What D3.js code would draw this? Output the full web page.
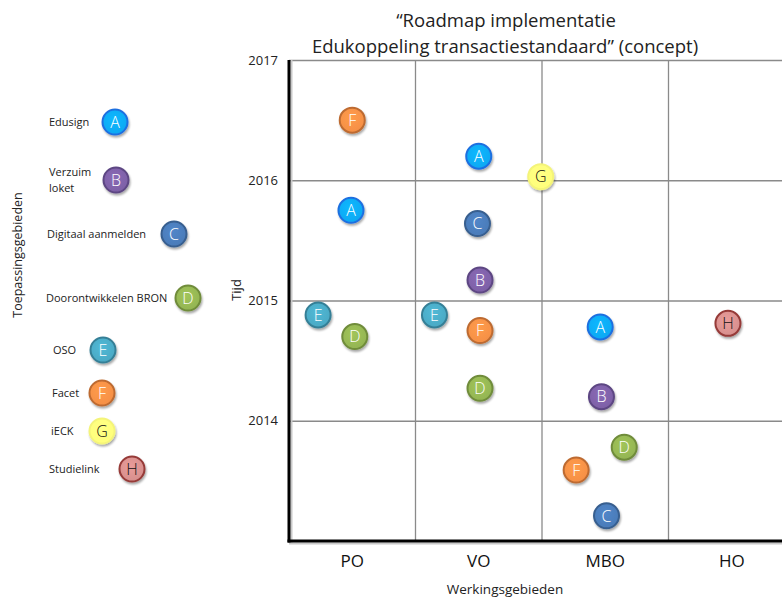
<!DOCTYPE html>
<html>
<head>
<meta charset="utf-8">
<script src="https://cdn.jsdelivr.net/npm/d3@7"></script>
<style>
  body { margin: 0; background: #fff; }
  text { font-family: "Open Sans", sans-serif; }
</style>
</head>
<body>
<svg id="chart" width="782" height="597"></svg>
<script>
// werkingsgebieden (x) and tijd (y)
var areas = ["PO", "VO", "MBO", "HO"];
var yearTicks = [2014, 2015, 2016, 2017];

// legend: toepassingsgebieden
var appLetters = ["A", "B", "C", "D", "E", "F", "G", "H"];
var appNames = [["Edusign"], ["Verzuim", "loket"], ["Digitaal aanmelden"], ["Doorontwikkelen  BRON"],
                ["OSO"], ["Facet"], ["iECK"], ["Studielink"]];

// points: letter, werkingsgebied, place inside the column (0..1), year
var pointLetter = ["F", "A", "E", "D", "A", "G", "C", "B", "E", "F", "D", "A", "B", "D", "F", "C", "H"];
var pointArea   = ["PO", "PO", "PO", "PO", "VO", "VO", "VO", "VO", "VO", "VO", "VO", "MBO", "MBO", "MBO", "MBO", "MBO", "HO"];
var pointPlace  = [0.50, 0.49, 0.23, 0.52, 0.50, 0.99, 0.49, 0.51, 0.15, 0.51, 0.51, 0.46, 0.47, 0.65, 0.27, 0.51, 0.47];
var pointYear   = [2016.50, 2015.75, 2014.88, 2014.70, 2016.20, 2016.03, 2015.64, 2015.17, 2014.88, 2014.75, 2014.27,
                   2014.78, 2014.20, 2013.78, 2013.59, 2013.21, 2014.81];

// styling per letter
var fillColor   = { A: "#0fa8f2", B: "#7d60a6", C: "#4a7bb8", D: "#93b452", E: "#4aa9c4", F: "#f58f45", G: "#ffff7a", H: "#d68f8d" };
var strokeColor = { A: "#1f6fe0", B: "#5d4683", C: "#375e8f", D: "#6f8c3a", E: "#357f96", F: "#bd6b30", G: "#f4f47a", H: "#963a38" };
var letterColor = { G: "#111", H: "#111" };

// legend layout (pixels)
var legendRowY = [122, 180, 234, 298, 350, 393, 431, 469];
var legendTextX = [49, 49, 47, 46, 53, 52, 51, 49];
var legendBadgeX = [115, 116, 174, 188, 103, 102, 102, 132];

var svg = d3.select("#chart");
var plotLeft = 289, plotRight = 795, plotTop = 60, plotBottom = 541;
var r = 12.5;

var x = d3.scaleBand().domain(areas).range([plotLeft, plotRight]);
var y = d3.scaleLinear().domain([2013, 2017]).range([plotBottom, plotTop]);

var defs = svg.append("defs");
var shadow = defs.append("filter").attr("id", "shadow").attr("x", "-30%").attr("y", "-30%").attr("width", "160%").attr("height", "160%");
shadow.append("feGaussianBlur").attr("in", "SourceAlpha").attr("stdDeviation", 1.2);
shadow.append("feOffset").attr("dx", 1).attr("dy", 1.5).attr("result", "off");
shadow.append("feComponentTransfer").append("feFuncA").attr("type", "linear").attr("slope", 0.35);
var merge = shadow.append("feMerge");
merge.append("feMergeNode");
merge.append("feMergeNode").attr("in", "SourceGraphic");

appLetters.forEach(function (l) {
    var g = defs.append("radialGradient").attr("id", "grad" + l).attr("cx", "45%").attr("cy", "40%").attr("r", "60%");
    g.append("stop").attr("offset", "0%").attr("stop-color", d3.color(fillColor[l]).brighter(0.25));
    g.append("stop").attr("offset", "100%").attr("stop-color", fillColor[l]);
});

// title
var title = svg.append("text").attr("text-anchor", "middle")
    .style("font-size", "18.5px").style("fill", "#222");
title.append("tspan").attr("x", 506).attr("y", 27).text("\u201CRoadmap implementatie");
title.append("tspan").attr("x", 505).attr("y", 53).text("Edukoppeling transactiestandaard\u201D (concept)");

// grid
svg.append("g")
    .attr("transform", "translate(" + plotLeft + ",0)")
    .call(d3.axisLeft(y).tickValues(yearTicks).tickSize(-(plotRight - plotLeft)).tickFormat(""))
    .call(function (g) { g.select(".domain").remove(); })
    .selectAll("line").attr("stroke", "#8a8a8a").attr("stroke-width", 1.3);

svg.append("g").selectAll("line")
    .data(areas.slice(1).concat(["end"]))
    .enter().append("line")
    .attr("x1", function (d) { return d === "end" ? plotRight : x(d); })
    .attr("x2", function (d) { return d === "end" ? plotRight : x(d); })
    .attr("y1", plotTop).attr("y2", plotBottom)
    .attr("stroke", "#8a8a8a").attr("stroke-width", 1.3);

// year labels
svg.append("g")
    .attr("transform", "translate(" + plotLeft + ",0)")
    .call(d3.axisLeft(y).tickValues(yearTicks).tickSize(0).tickPadding(11).tickFormat(d3.format("d")))
    .call(function (g) { g.select(".domain").remove(); })
    .selectAll("text").style("font-size", "13px").style("font-family", "Open Sans, sans-serif").style("fill", "#222");

// area labels
svg.append("g")
    .attr("transform", "translate(0," + plotBottom + ")")
    .call(d3.axisBottom(x).tickSize(0).tickPadding(14))
    .call(function (g) { g.select(".domain").remove(); })
    .selectAll("text").style("font-size", "17px").style("font-family", "Open Sans, sans-serif").style("fill", "#111");

// thick axes with a soft shadow
svg.append("line").attr("x1", plotLeft + 2.5).attr("x2", plotLeft + 2.5).attr("y1", plotTop).attr("y2", plotBottom + 2)
    .attr("stroke", "#c8c8c8").attr("stroke-width", 2);
svg.append("line").attr("x1", plotLeft).attr("x2", 782).attr("y1", plotBottom + 2.5).attr("y2", plotBottom + 2.5)
    .attr("stroke", "#c8c8c8").attr("stroke-width", 2);
svg.append("line").attr("x1", plotLeft).attr("x2", plotLeft).attr("y1", plotTop).attr("y2", plotBottom + 1.5)
    .attr("stroke", "#000").attr("stroke-width", 3);
svg.append("line").attr("x1", plotLeft - 1.5).attr("x2", 782).attr("y1", plotBottom).attr("y2", plotBottom)
    .attr("stroke", "#000").attr("stroke-width", 3);

// axis titles
svg.append("text").attr("transform", "translate(241,290) rotate(-90)").attr("text-anchor", "middle")
    .style("font-size", "13px").style("fill", "#222").text("Tijd");
svg.append("text").attr("x", 505).attr("y", 594).attr("text-anchor", "middle")
    .style("font-size", "13.5px").style("fill", "#222").text("Werkingsgebieden");
svg.append("text").attr("transform", "translate(22,255) rotate(-90)").attr("text-anchor", "middle")
    .style("font-size", "12.5px").style("fill", "#222").text("Toepassingsgebieden");

function drawBadge(sel) {
    sel.append("circle").attr("r", r)
        .attr("fill", function (d) { return "url(#grad" + d.letter + ")"; })
        .attr("stroke", function (d) { return strokeColor[d.letter]; })
        .attr("stroke-width", 2)
        .attr("filter", "url(#shadow)");
    sel.append("text").attr("text-anchor", "middle").attr("dy", "0.36em")
        .style("font-size", "16px")
        .style("font-weight", 300)
        .style("fill", function (d) { return letterColor[d.letter] || "#fff"; })
        .text(function (d) { return d.letter; });
}

// points
var points = pointLetter.map(function (l, i) {
    return { letter: l, area: pointArea[i], place: pointPlace[i], year: pointYear[i] };
});
svg.append("g").selectAll("g")
    .data(points).enter().append("g")
    .attr("transform", function (d) {
        return "translate(" + (x(d.area) + d.place * x.bandwidth()) + "," + y(d.year) + ")";
    })
    .call(drawBadge);

// legend
var legend = appLetters.map(function (l, i) { return { letter: l, name: appNames[i] }; });
var items = svg.append("g").selectAll("g")
    .data(legend).enter().append("g");
items.each(function (d, i) {
    var item = d3.select(this);
    var t = item.append("text").style("font-size", "11px").style("fill", "#222");
    var n = d.name.length;
    d.name.forEach(function (line, j) {
        t.append("tspan").attr("x", legendTextX[i]).attr("y", legendRowY[i] + (j - (n - 1) / 2) * 16)
            .attr("dy", "0.35em").text(line);
    });
    item.append("g").attr("transform", "translate(" + legendBadgeX[i] + "," + legendRowY[i] + ")")
        .datum(d).call(drawBadge);
});
</script>
</body>
</html>
